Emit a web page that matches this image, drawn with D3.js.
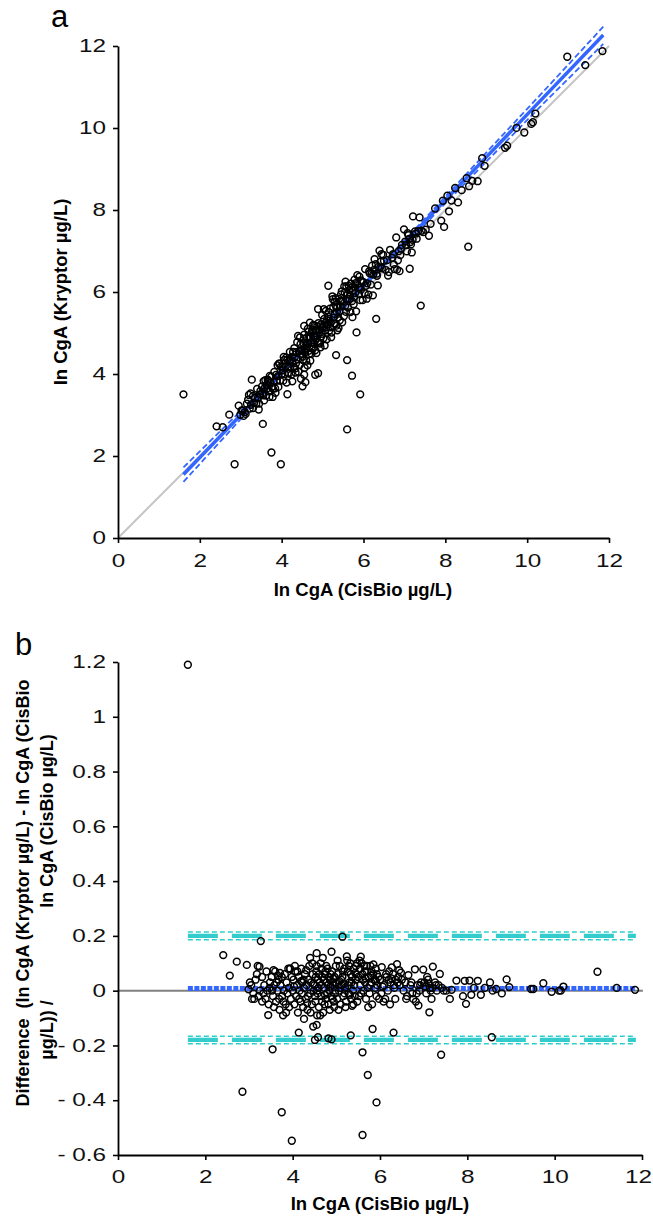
<!DOCTYPE html>
<html>
<head>
<meta charset="utf-8">
<script src="https://cdn.jsdelivr.net/npm/d3@7"></script>
<style>
  html, body { margin: 0; padding: 0; background: #fff; }
  svg { display: block; font-family: Arial, "Liberation Sans", sans-serif; }
</style>
</head>
<body>
<svg id="chart" width="653" height="1218"></svg>
<script>
// ── Method comparison: ln CgA, Kryptor vs CisBio ──
// Panel a: scatter with identity line + regression (and its 95% CI).
// Panel b: relative difference plot (Bland-Altman style).

// Points: [ln CgA CisBio, (Kryptor - CisBio) / CisBio]
const outlierPoints = [
  [1.60, 1.19], [2.85, -0.369], [3.75, -0.444], [3.98, -0.548], [3.54, -0.214],
  [3.44, -0.089], [5.60, -0.527], [5.92, -0.408], [5.72, -0.308], [5.60, -0.225],
  [7.40, -0.234], [8.56, -0.170], [5.33, -0.163], [5.83, -0.140], [6.31, -0.153],
  [4.14, -0.153], [4.26, -0.103], [4.47, -0.131], [4.55, -0.125], [4.51, -0.180],
  [4.58, -0.170], [4.82, -0.174], [4.89, -0.178], [7.13, -0.079], [6.88, -0.054],
  [5.36, -0.055], [3.27, 0.181], [5.14, 0.197], [2.41, 0.130], [2.56, 0.055],
  [2.72, 0.106], [2.95, 0.094]
];

const lowPoints = [
  [3.20, 0.090], [3.24, 0.088], [3.02, 0.030], [2.99, 0.005], [3.07, -0.030],
  [3.05, 0.02], [3.10, -0.01], [3.15, 0.04], [3.22, -0.02], [3.25, 0.00],
  [3.30, 0.05], [3.30, -0.04], [3.35, 0.02], [3.38, -0.03], [3.40, 0.07],
  [3.42, 0.00], [3.45, -0.05], [3.48, 0.03], [3.12, -0.03], [3.18, 0.06],
  [3.52, 0.05], [3.55, -0.02], [3.58, 0.02], [3.60, 0.07], [3.62, -0.04],
  [3.65, 0.00], [3.68, 0.04], [3.70, -0.07], [3.72, 0.02], [3.75, 0.05],
  [3.76, -0.02], [3.78, -0.09], [3.80, 0.00], [3.82, 0.06], [3.84, -0.05],
  [3.86, 0.03], [3.88, -0.01], [3.90, 0.08], [3.92, -0.06], [3.94, 0.08],
  [3.96, -0.03], [3.98, 0.05], [3.85, -0.08], [3.66, 0.055], [3.57, -0.06],
  [3.71, 0.065], [3.56, 0.075], [3.94, 0.080], [3.33, -0.01], [3.47, 0.01],
  [3.63, 0.03], [3.79, -0.04], [3.91, 0.01], [3.69, -0.03], [3.53, 0.00]
];

const midPoints = [
  [4.00, 0.00], [4.02, 0.04], [4.04, -0.05], [4.06, 0.07], [4.08, -0.02],
  [4.10, 0.02], [4.12, -0.08], [4.14, 0.05], [4.16, 0.00], [4.18, -0.04],
  [4.20, 0.08], [4.22, 0.03], [4.24, -0.06], [4.26, 0.01], [4.28, 0.06],
  [4.30, -0.03], [4.32, 0.02], [4.34, -0.07], [4.36, 0.04], [4.38, 0.09],
  [4.40, -0.01], [4.42, 0.03], [4.44, -0.05], [4.46, 0.06], [4.48, 0.00],
  [4.05, 0.09], [4.15, -0.03], [4.25, 0.04], [4.35, -0.02], [4.45, 0.10],
  [4.11, 0.07], [4.31, 0.075], [4.21, -0.01], [4.41, -0.08], [4.40, 0.12],
  [4.55, 0.137], [4.56, -0.09], [4.50, 0.02], [4.52, -0.04], [4.54, 0.07],
  [4.56, 0.00], [4.58, 0.04], [4.60, -0.06], [4.62, 0.03], [4.64, 0.10],
  [4.66, -0.02], [4.68, 0.05], [4.70, -0.08], [4.72, 0.01], [4.74, 0.06],
  [4.76, -0.03], [4.78, 0.03], [4.80, 0.08], [4.82, -0.05], [4.84, 0.00],
  [4.86, 0.04], [4.88, -0.02], [4.90, 0.07], [4.92, 0.02], [4.94, -0.04],
  [4.96, 0.05], [4.98, 0.00], [4.53, 0.05], [4.57, -0.01], [4.61, 0.06],
  [4.65, 0.02], [4.69, 0.12], [4.73, -0.05], [4.77, 0.09], [4.81, 0.02],
  [4.85, -0.07], [4.89, 0.142], [4.93, 0.03], [4.97, -0.01], [4.55, 0.09],
  [4.63, -0.09], [4.71, 0.04], [4.79, -0.01], [4.87, 0.06], [4.95, -0.06],
  [4.59, 0.01], [4.67, -0.04], [4.75, 0.07], [4.83, 0.05], [4.91, -0.03],
  [4.99, 0.09], [5.00, 0.03], [5.02, -0.03], [5.04, 0.06], [5.06, 0.00],
  [5.08, 0.09], [5.10, -0.05], [5.12, 0.02], [5.14, 0.05], [5.16, -0.02],
  [5.18, 0.08], [5.20, 0.01], [5.22, -0.04], [5.24, 0.125], [5.26, 0.07],
  [5.28, -0.01], [5.30, 0.03], [5.32, 0.10], [5.34, -0.03], [5.36, 0.05],
  [5.38, 0.00], [5.40, 0.08], [5.42, -0.02], [5.44, 0.04], [5.46, 0.06],
  [5.48, -0.04], [5.03, 0.11], [5.09, 0.01], [5.15, 0.07], [5.21, -0.06],
  [5.27, 0.02], [5.33, 0.06], [5.39, -0.05], [5.45, 0.09], [5.05, -0.07],
  [5.25, 0.11], [5.35, 0.03], [5.11, 0.04], [5.19, -0.01], [5.29, 0.09],
  [5.41, 0.02], [5.47, 0.10], [4.03, 0.015], [4.19, 0.035], [4.33, -0.045],
  [4.47, 0.025], [4.51, -0.02], [4.66, 0.08], [4.74, -0.015], [4.86, 0.015],
  [4.94, 0.045], [5.07, 0.035], [5.17, 0.025], [5.31, -0.015], [5.43, 0.065]
];

const highPoints = [
  [5.50, 0.05], [5.52, -0.02], [5.54, 0.08], [5.56, 0.124], [5.58, 0.10],
  [5.60, 0.06], [5.62, 0.00], [5.64, 0.09], [5.66, 0.03], [5.68, -0.03],
  [5.70, 0.07], [5.72, 0.01], [5.74, 0.05], [5.76, -0.01], [5.78, 0.09],
  [5.80, 0.03], [5.82, -0.05], [5.84, 0.06], [5.85, 0.096], [5.88, 0.04],
  [5.90, 0.08], [5.92, -0.02], [5.94, 0.02], [5.96, 0.05], [5.98, -0.03],
  [5.53, 0.11], [5.61, 0.04], [5.69, 0.09], [5.77, 0.02], [5.93, 0.06],
  [5.57, -0.01], [5.65, 0.07], [5.73, -0.06], [5.81, 0.07], [5.89, 0.01],
  [6.00, 0.04], [6.03, -0.01], [6.04, 0.086], [6.09, 0.02], [6.12, -0.03],
  [6.15, 0.05], [6.18, 0.00], [6.21, 0.07], [6.24, 0.03], [6.27, 0.085],
  [6.30, 0.06], [6.33, 0.01], [6.36, 0.04], [6.39, 0.097], [6.42, 0.05],
  [6.45, 0.02], [6.48, 0.066], [6.14, 0.06], [6.23, -0.05], [6.32, 0.02],
  [6.41, 0.03], [6.08, -0.04], [6.20, 0.04], [6.35, -0.03], [6.50, 0.04],
  [6.54, 0.00], [6.58, 0.03], [6.62, -0.02], [6.65, 0.057], [6.70, 0.02],
  [6.74, -0.01], [6.80, 0.078], [6.82, -0.04], [6.86, 0.02], [6.90, 0.00],
  [6.94, 0.03], [6.99, 0.077], [6.72, 0.03], [6.84, -0.01], [6.92, 0.02],
  [6.60, -0.03], [6.76, -0.03], [7.02, 0.03], [7.06, -0.01], [7.10, 0.04],
  [7.14, 0.01], [7.18, -0.03], [7.21, 0.088], [7.26, 0.03], [7.30, 0.00],
  [7.34, 0.02], [7.37, 0.061], [7.42, 0.01], [7.46, 0.00], [7.08, 0.05],
  [7.16, 0.00], [7.28, 0.02], [7.04, 0.015], [7.12, 0.025], [7.20, 0.01],
  [7.52, 0.00], [7.60, -0.03], [7.64, 0.003], [7.75, 0.037], [7.90, -0.02],
  [7.94, 0.036], [7.97, -0.048], [8.05, 0.037], [8.09, -0.015], [8.24, 0.036],
  [8.31, -0.015], [5.55, 0.02], [5.67, 0.045], [5.79, 0.055], [5.91, 0.035],
  [6.06, 0.015], [6.26, 0.045], [6.44, 0.075]
];

const topPoints = [
  [8.15, 0.01], [8.40, 0.01], [8.52, 0.03], [8.58, 0.00], [8.66, 0.006],
  [8.79, -0.01], [8.90, 0.041], [8.96, 0.013], [9.46, 0.006], [9.51, 0.006],
  [9.74, 0.027], [9.93, -0.004], [10.10, 0.0], [10.14, 0.0], [10.20, 0.015],
  [10.98, 0.069], [11.42, 0.010], [11.84, 0.003]
];

// Panel a lines
const identityX = [0, 12];
const regX = [1.6, 3, 4.5, 6, 7.5, 9, 10.5, 11.86];
const regY = [1.55, 3.0, 4.58, 6.15, 7.72, 9.29, 10.85, 12.27];
const ciUpperY = [1.72, 3.10, 4.63, 6.20, 7.79, 9.40, 11.00, 12.47];
const ciLowerY = [1.37, 2.90, 4.53, 6.10, 7.65, 9.18, 10.70, 12.05];

// Panel b lines
const baX = [1.6, 11.86];
const meanDiff = 0.008;
const loaUpper = 0.2, loaUpperCI = [0.186, 0.214];
const loaLower = -0.18, loaLowerCI = [-0.166, -0.194];

const ticksA = [0, 2, 4, 6, 8, 10, 12];
const ticksBy = [-0.6, -0.4, -0.2, 0, 0.2, 0.4, 0.6, 0.8, 1, 1.2];

const allPoints = [].concat(outlierPoints, lowPoints, midPoints, highPoints, topPoints);

const BLUE = '#3366ff';
const CYAN = '#33cccc';
const STRETCH = 1.35; // tick digits are drawn wide in the original

const svg = d3.select('#chart');

// ── scales ──
const xA = d3.scaleLinear().domain([0, 12]).range([118, 609]);
const yA = d3.scaleLinear().domain([0, 12]).range([538, 46]);
const xB = d3.scaleLinear().domain([0, 12]).range([118, 642]);
const yB = d3.scaleLinear().domain([-0.6, 1.2]).range([1155, 662]);

function styleAxis(g, isY) {
  g.select('.domain').attr('stroke', '#000').attr('stroke-width', 1.8);
  g.selectAll('.tick line').attr('stroke', '#000').attr('stroke-width', 1.6);
  g.selectAll('.tick text')
    .attr('font-size', 18)
    .attr('font-family', 'Arial, "Liberation Sans", sans-serif')
    .attr('fill', '#111')
    .attr('transform', `scale(${STRETCH},1)`);
  if (isY) g.selectAll('.tick text').attr('x', -12 / STRETCH);
}

// ── Panel a ──
const pa = svg.append('g');

pa.append('line')
  .attr('x1', xA(identityX[0])).attr('y1', yA(identityX[0]))
  .attr('x2', xA(identityX[1])).attr('y2', yA(identityX[1]))
  .attr('stroke', '#c4c4c4').attr('stroke-width', 2);

const lineA = (ys) => d3.line().x((d, i) => xA(regX[i])).y(d => yA(d))(ys);

pa.append('path').attr('d', lineA(ciUpperY))
  .attr('fill', 'none').attr('stroke', BLUE).attr('stroke-width', 1.8)
  .attr('stroke-dasharray', '6,3');
pa.append('path').attr('d', lineA(ciLowerY))
  .attr('fill', 'none').attr('stroke', BLUE).attr('stroke-width', 1.8)
  .attr('stroke-dasharray', '6,3');
pa.append('path').attr('d', lineA(regY))
  .attr('fill', 'none').attr('stroke', BLUE).attr('stroke-width', 3.5);

pa.append('g').selectAll('circle')
  .data(allPoints)
  .join('circle')
  .attr('cx', d => xA(d[0]))
  .attr('cy', d => yA(d[0] * (1 + d[1])))
  .attr('r', 3.4)
  .attr('fill', 'none')
  .attr('stroke', '#000')
  .attr('stroke-width', 1.5);

pa.append('g').attr('transform', `translate(0,${yA(0)})`)
  .call(d3.axisBottom(xA).tickValues(ticksA).tickSize(5).tickPadding(11).tickSizeOuter(0))
  .call(g => styleAxis(g, false));
pa.append('g').attr('transform', `translate(${xA(0)},0)`)
  .call(d3.axisLeft(yA).tickValues(ticksA).tickSize(5).tickPadding(7).tickSizeOuter(0))
  .call(g => styleAxis(g, true));

pa.append('text')
  .attr('x', 363).attr('y', 596)
  .attr('text-anchor', 'middle')
  .attr('font-size', 18.5).attr('font-weight', 'bold')
  .text('In CgA (CisBio µg/L)');
pa.append('text')
  .attr('transform', 'translate(67,292) rotate(-90)')
  .attr('text-anchor', 'middle')
  .attr('font-size', 18.5).attr('font-weight', 'bold')
  .text('In CgA (Kryptor µg/L)');
pa.append('text')
  .attr('x', 51).attr('y', 27)
  .attr('font-size', 31)
  .text('a');

// ── Panel b ──
const pb = svg.append('g');

pb.append('line')
  .attr('x1', xB(0)).attr('x2', xB(12.02))
  .attr('y1', yB(0)).attr('y2', yB(0))
  .attr('stroke', '#808080').attr('stroke-width', 2);

// limits of agreement with their CIs
[[loaUpper, loaUpperCI], [loaLower, loaLowerCI]].forEach(([v, ci]) => {
  ci.forEach(c => {
    pb.append('line')
      .attr('x1', xB(baX[0])).attr('x2', xB(baX[1]))
      .attr('y1', yB(c)).attr('y2', yB(c))
      .attr('stroke', CYAN).attr('stroke-width', 1.5)
      .attr('stroke-dasharray', '5,3');
  });
  pb.append('line')
    .attr('x1', xB(baX[0])).attr('x2', xB(baX[1]))
    .attr('y1', yB(v)).attr('y2', yB(v))
    .attr('stroke', CYAN).attr('stroke-width', 4.2)
    .attr('stroke-dasharray', '30,14');
});

pb.append('line')
  .attr('x1', xB(baX[0])).attr('x2', xB(baX[1]))
  .attr('y1', yB(meanDiff)).attr('y2', yB(meanDiff))
  .attr('stroke', BLUE).attr('stroke-width', 5)
  .attr('stroke-dasharray', '5,1.5');

pb.append('g').selectAll('circle')
  .data(allPoints)
  .join('circle')
  .attr('cx', d => xB(d[0]))
  .attr('cy', d => yB(d[1]))
  .attr('r', 3.4)
  .attr('fill', 'none')
  .attr('stroke', '#000')
  .attr('stroke-width', 1.5);

pb.append('g').attr('transform', `translate(0,${yB(-0.6)})`)
  .call(d3.axisBottom(xB).tickValues(ticksA).tickSize(5).tickPadding(10).tickSizeOuter(0))
  .call(g => styleAxis(g, false))
  // last label sits against the page edge: nudge it inside
  .call(g => g.selectAll('.tick text').filter(d => d === 12).attr('x', -4 / STRETCH));
pb.append('g').attr('transform', `translate(${xB(0)},0)`)
  .call(d3.axisLeft(yB).tickValues(ticksBy).tickSize(5).tickPadding(7).tickSizeOuter(0)
    .tickFormat(d => {
      const s = String(+Math.abs(d).toFixed(1));
      return d < 0 ? '- ' + s : s;
    }))
  .call(g => styleAxis(g, true));

pb.append('text')
  .attr('x', 380).attr('y', 1210)
  .attr('text-anchor', 'middle')
  .attr('font-size', 18.5).attr('font-weight', 'bold')
  .text('In CgA (CisBio µg/L)');

const yLab = [
  { x: 29, y: 893, text: 'Difference\u00a0 (In CgA (Kryptor µg/L) - In CgA (CisBio' },
  { x: 53, y: 1030, text: 'µg/L)) /' },
  { x: 53, y: 821, text: 'In CgA (CisBio µg/L)' }
];
yLab.forEach(l => {
  pb.append('text')
    .attr('transform', `translate(${l.x},${l.y}) rotate(-90)`)
    .attr('text-anchor', 'middle')
    .attr('font-size', 18).attr('font-weight', 'bold')
    .text(l.text);
});

pb.append('text')
  .attr('x', 15).attr('y', 655)
  .attr('font-size', 31)
  .text('b');
</script>
</body>
</html>
